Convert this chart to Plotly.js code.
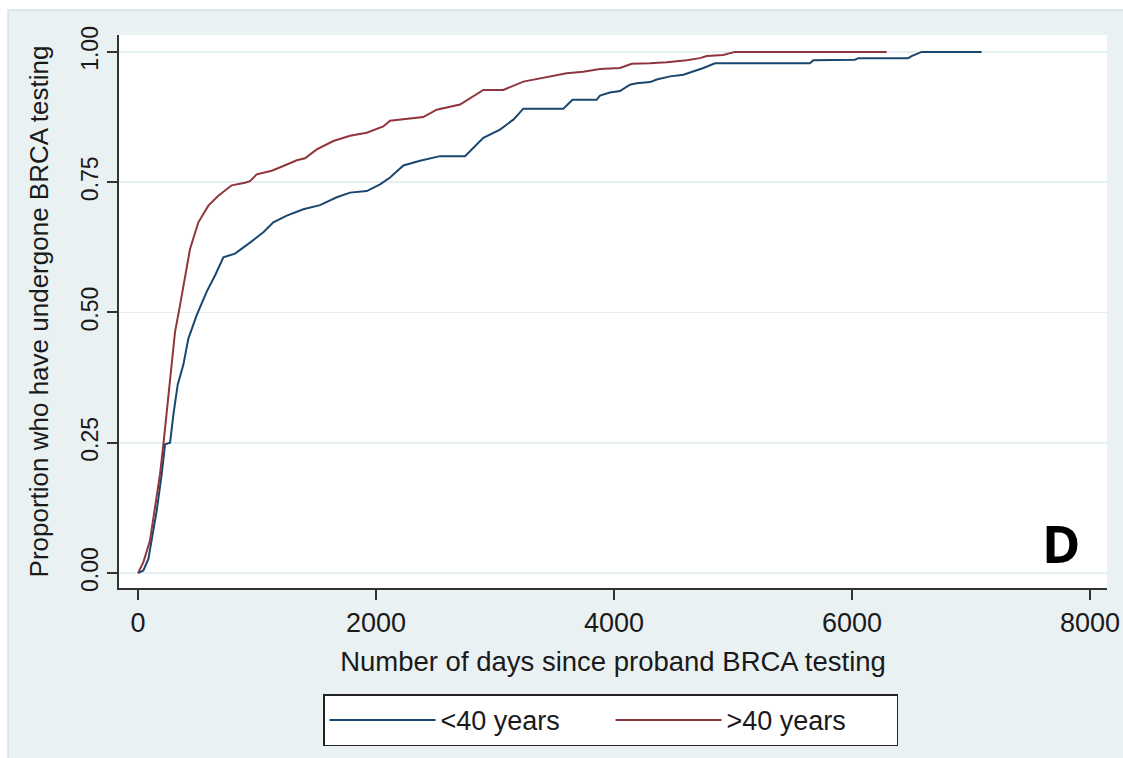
<!DOCTYPE html>
<html>
<head>
<meta charset="utf-8">
<script src="https://cdn.plot.ly/plotly-3.0.1.min.js"></script>
<style>
  html, body { margin: 0; padding: 0; background: #ffffff; }
  #chart { width: 1123px; height: 758px; }
</style>
</head>
<body>
<div id="chart"></div>
<script>
// ---- data ----
const seriesNames = ["<40 years", ">40 years"];

const under40Days = [0, 45, 87, 115, 157, 199, 227, 269, 297, 333, 381, 423, 493, 577, 647, 717, 815, 941, 1053, 1137, 1250, 1389, 1529, 1670, 1782, 1922, 2034, 2118, 2230, 2370, 2538, 2748, 2818, 2902, 3042, 3154, 3238, 3574, 3651, 3854, 3882, 3966, 4050, 4134, 4190, 4303, 4359, 4471, 4583, 4667, 4751, 4849, 5647, 5675, 6025, 6053, 6473, 6501, 6585, 7089];
const under40Prop = [0, 0.005, 0.027, 0.062, 0.12, 0.19, 0.247, 0.25, 0.304, 0.361, 0.40, 0.45, 0.495, 0.54, 0.571, 0.606, 0.613, 0.634, 0.654, 0.673, 0.686, 0.698, 0.706, 0.721, 0.73, 0.733, 0.746, 0.759, 0.782, 0.791, 0.80, 0.80, 0.816, 0.835, 0.851, 0.87, 0.891, 0.891, 0.908, 0.908, 0.916, 0.922, 0.925, 0.937, 0.94, 0.942, 0.947, 0.953, 0.956, 0.962, 0.969, 0.978, 0.978, 0.984, 0.985, 0.988, 0.988, 0.992, 1.0, 1.0];

const over40Days = [0, 45, 100, 143, 185, 213, 241, 260, 283, 311, 353, 395, 437, 507, 591, 675, 787, 899, 941, 997, 1124, 1221, 1334, 1403, 1502, 1641, 1782, 1922, 2061, 2118, 2286, 2397, 2510, 2706, 2902, 3070, 3238, 3462, 3602, 3742, 3882, 4050, 4149, 4303, 4443, 4611, 4723, 4779, 4918, 5017, 6291];
const over40Prop = [0, 0.021, 0.062, 0.126, 0.19, 0.247, 0.31, 0.361, 0.412, 0.463, 0.514, 0.565, 0.622, 0.673, 0.705, 0.724, 0.744, 0.749, 0.752, 0.765, 0.772, 0.781, 0.792, 0.796, 0.813, 0.829, 0.839, 0.845, 0.857, 0.868, 0.872, 0.875, 0.889, 0.899, 0.927, 0.927, 0.943, 0.953, 0.959, 0.962, 0.967, 0.969, 0.977, 0.978, 0.98, 0.984, 0.988, 0.992, 0.994, 1.0, 1.0];

const xTickVals = [0, 2000, 4000, 6000, 8000];
const yTickVals = [0, 0.25, 0.5, 0.75, 1.0];

const xTitle = "Number of days since proband BRCA testing";
const yTitle = "Proportion who have undergone BRCA testing";
const panelLabel = "D";

// ---- chart ----
const FONT = "Liberation Sans, Arial, sans-serif";
const traces = [
  { x: under40Days, y: under40Prop, name: seriesNames[0], type: "scatter", mode: "lines",
    line: { color: "#1a476f", width: 2, shape: "linear" } },
  { x: over40Days, y: over40Prop, name: seriesNames[1], type: "scatter", mode: "lines",
    line: { color: "#90353b", width: 2, shape: "linear" } }
];

const layout = {
  width: 1123, height: 758,
  margin: { l: 119, r: 16, t: 35, b: 167 },
  paper_bgcolor: "#eaf1f3",
  plot_bgcolor: "#ffffff",
  font: { family: FONT, color: "#1a1a1a" },
  showlegend: true,
  legend: {
    orientation: "h",
    x: 0.2065, xanchor: "left",
    y: -0.1924, yanchor: "top",
    bgcolor: "#ffffff", bordercolor: "#222222", borderwidth: 1.5,
    font: { family: FONT, size: 27, color: "#1a1a1a" },
    itemwidth: 106,
    entrywidth: 165,
    tracegroupgap: 0
  },
  xaxis: {
    range: [-160, 8143],
    tickvals: xTickVals,
    ticks: "outside", ticklen: 10, tickwidth: 2, tickcolor: "#333333",
    showline: true, linecolor: "#333333", linewidth: 2,
    showgrid: false, zeroline: false,
    tickfont: { family: FONT, size: 27, color: "#1a1a1a" },
    title: { text: xTitle, font: { family: FONT, size: 27.5, color: "#1a1a1a" }, standoff: 14 }
  },
  yaxis: {
    range: [-0.0286, 1.0324],
    tickvals: yTickVals,
    tickformat: ".2f",
    tickangle: -90,
    ticks: "outside", ticklen: 10, tickwidth: 2, tickcolor: "#333333",
    showline: true, linecolor: "#333333", linewidth: 2,
    showgrid: true, gridcolor: "#e6eff1", gridwidth: 1.5,
    zeroline: false,
    tickfont: { family: FONT, size: 23, color: "#1a1a1a" },
    title: { text: yTitle, font: { family: FONT, size: 26, color: "#1a1a1a" }, standoff: 21 }
  },
  shapes: [
    { type: "rect", xref: "paper", yref: "paper", x0: -0.1205, x1: -0.1123, y0: -0.31, y1: 1.07,
      fillcolor: "#ffffff", line: { width: 0 }, layer: "below" },
    { type: "rect", xref: "paper", yref: "paper", x0: -0.1205, x1: 1.02, y0: 1.045, y1: 1.07,
      fillcolor: "#ffffff", line: { width: 0 }, layer: "below" },
    { type: "rect", xref: "paper", yref: "paper", x0: -0.1123, x1: 1.02, y0: -0.31, y1: 1.045,
      fillcolor: "rgba(0,0,0,0)", line: { color: "#d6e2e5", width: 1.5 }, layer: "below" }
  ],
  annotations: [
    { text: "<b>" + panelLabel + "</b>", xref: "paper", yref: "paper", x: 0.9544, y: 0.083,
      xanchor: "center", yanchor: "middle", showarrow: false,
      font: { family: "Open Sans, Liberation Sans, sans-serif", size: 52, color: "#000000" } }
  ]
};

Plotly.newPlot("chart", traces, layout, { staticPlot: true, displayModeBar: false });
</script>
</body>
</html>
